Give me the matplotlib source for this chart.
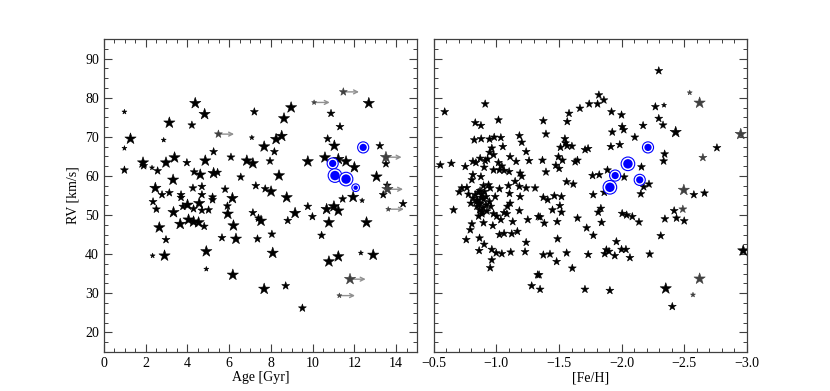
import numpy as np
import matplotlib
matplotlib.use("Agg")
import matplotlib.pyplot as plt
from matplotlib.ticker import MultipleLocator

plt.rcParams['font.family'] = ['Liberation Serif', 'DejaVu Serif']
plt.rcParams['font.size'] = 10

# ---- left panel: age vs RV (size class 1=small, 2=medium, 3=large) ----
age = [0.99, 4.38, 4.83, 3.14, 4.22, 1.28, 2.87, 0.99, 0.99, 1.88, 1.91, 2.31, 2.58,
       2.98, 3.39, 3.98, 4.86, 4.33, 4.62, 3.32, 2.47, 2.79, 3.14, 2.36, 2.52, 3.70,
       3.70, 4.27, 4.70, 4.70, 4.57, 4.01, 3.79, 4.30, 3.34, 4.70, 5.02, 4.06, 4.30,
       4.54, 3.66, 4.81, 2.66, 2.98, 2.91, 2.34, 4.91, 4.91,
       7.21, 8.97, 8.63, 7.09, 7.68, 8.25, 8.52, 8.17, 5.26, 6.09, 6.85, 7.14, 7.96,
       9.77, 5.26, 5.45, 6.56, 8.39, 7.28, 7.73, 8.01, 8.76, 9.77, 9.99, 9.16, 8.81,
       5.81, 6.16, 5.21, 5.21, 5.92, 5.94, 7.14, 7.41, 7.53, 6.21, 5.66, 6.33, 7.36,
       8.05, 8.09, 6.18, 7.68, 8.71, 9.51,
       12.69, 10.88, 11.31, 10.72, 11.04, 13.22, 13.51, 10.59, 11.23, 11.60, 12.0,
       13.06, 13.57, 13.38, 14.33, 11.94, 11.44, 12.37, 11.02, 10.67, 11.23, 10.78,
       12.58, 10.43, 11.23, 10.78, 12.31, 12.9]
age_rv = [76.4, 78.6, 75.8, 73.6, 73.0, 69.5, 69.2, 67.1, 61.5, 63.4, 62.6, 62.1, 61.3,
          63.4, 64.7, 63.4, 63.9, 61.0, 60.3, 59.0, 56.9, 55.2, 55.7, 53.4, 51.5, 55.2,
          54.5, 56.9, 57.3, 55.2, 53.0, 52.6, 52.2, 51.6, 50.7, 51.2, 51.3, 48.8, 48.3,
          48.1, 47.7, 47.1, 46.8, 43.7, 39.6, 39.6, 40.7, 36.2,
          76.4, 77.5, 74.7, 69.8, 67.5, 69.4, 70.2, 66.2, 66.2, 64.8, 63.9, 63.2, 63.8,
          63.7, 60.7, 60.9, 59.7, 60.1, 57.5, 56.7, 56.0, 54.5, 52.2, 49.6, 50.5, 48.6,
          56.6, 54.3, 54.6, 53.9, 52.3, 50.3, 50.6, 49.2, 48.5, 47.3, 44.2, 43.9, 43.9,
          45.1, 40.3, 34.7, 31.1, 31.9, 26.2,
          78.6, 76.0, 72.6, 69.5, 67.7, 67.7, 63.1, 64.7, 64.3, 63.7, 62.2,
          59.8, 57.6, 55.2, 52.9, 54.6, 54.1, 53.7, 52.2, 51.5, 51.1, 48.1,
          48.1, 44.8, 39.4, 38.1, 40.3, 39.8]
age_sz = [1, 3, 3, 3, 2, 3, 1, 1, 2, 3, 2, 1, 2,
          3, 3, 2, 3, 2, 3, 3, 3, 2, 2, 2, 2, 2,
          2, 2, 2, 2, 3, 3, 2, 2, 3, 2, 2, 3, 3,
          3, 3, 2, 3, 2, 3, 1, 3, 1,
          2, 3, 3, 1, 3, 3, 3, 2, 2, 2, 3, 3, 2,
          3, 3, 2, 2, 3, 2, 2, 3, 3, 2, 2, 3, 2,
          2, 3, 2, 2, 2, 3, 2, 2, 3, 3, 2, 3, 2,
          2, 3, 3, 3, 2, 2,
          3, 2, 2, 2, 3, 2, 2, 3, 3, 3, 3,
          3, 2, 2, 2, 3, 2, 1, 3, 3, 3, 3,
          3, 2, 3, 3, 1, 3]

# lower limits on age (grey stars with arrows)
lim_age = [5.49, 10.07, 11.47, 13.51, 13.58, 13.62, 11.79, 11.28]
lim_age_rv = [70.7, 78.8, 81.5, 64.8, 56.6, 51.5, 33.6, 29.4]
lim_age_sz = [2, 1, 2, 3, 3, 1, 3, 1]

# highlighted stars
blue_age = [12.42, 10.96, 11.07, 11.60, 12.06]
blue_age_rv = [67.3, 63.2, 60.1, 59.2, 57.0]
blue_age_sz = [2, 2, 3, 3, 1]

# ---- right panel: [Fe/H] vs RV ----
feh = [-0.911, -0.588, -1.017, -0.832, -0.877, -1.184, -1.203, -0.824, -0.879, -0.946,
       -0.983, -1.036, -1.052, -0.964, -0.946, -0.978, -1.238, -1.261, -1.110, -1.158,
       -0.553, -0.641, -0.752, -0.813, -0.837, -0.871, -0.911, -0.930, -0.903, -1.017,
       -1.044, -0.978, -1.025, -1.062, -1.102, -1.190, -1.203, -0.813, -0.877, -0.805,
       -0.898, -0.938, -0.951, -1.025, -1.097, -1.150, -1.184, -1.238, -1.309, -0.725,
       -0.704, -0.765, -0.778, -0.832, -0.885, -0.919, -0.991, -1.105, -1.190, -0.797,
       -0.840, -0.871, -0.898, -0.946, -0.956, -0.845, -0.866, -0.885, -0.859, -0.898,
       -0.978, -1.004, -1.036, -1.084, -1.110, -1.089, -1.062, -1.184, -0.659, -0.805,
       -0.792, -0.760, -0.866, -0.903, -0.863, -0.964, -0.999, -1.044, -1.115, -0.964,
       -0.951, -0.972, -1.025, -1.062, -1.123, -1.168, -1.131, -1.251, -1.238, -1.229,
       -1.282, -1.330, -1.335, -0.813, -0.855, -0.925,
       -0.862, -0.880, -0.895, -0.870, -0.905, -0.850, -0.888, -0.918,
       -1.818, -1.858, -1.808, -1.741, -1.667, -1.580, -1.566, -1.375, -1.396, -1.547,
       -1.552, -1.512, -1.565, -1.603, -1.708, -1.732, -1.919, -1.999, -2.004, -2.017,
       -1.925, -2.171, -2.105, -1.914, -1.985, -1.368, -1.496, -1.528, -1.475, -1.501,
       -1.629, -1.647, -1.396, -1.768, -1.821, -1.887, -2.020, -2.158, -2.153, -1.561,
       -1.614, -1.375, -1.410, -1.463, -1.520, -1.507, -1.448, -1.520, -1.349, -1.383,
       -1.486, -1.648, -1.773, -1.861, -1.813, -1.834, -1.840, -1.721, -1.774, -2.004,
       -2.040, -2.085, -2.138, -1.489, -1.958, -1.878, -1.899, -1.865, -1.945, -1.999,
       -2.034, -2.066, -1.375, -1.428, -1.561, -1.733, -1.481, -1.606, -1.341, -1.349,
       -1.707, -1.906,
       -2.296, -2.269, -2.338, -2.296, -2.330, -2.431, -2.760, -2.343, -2.335, -2.218,
       -2.176, -2.576, -2.661, -2.419, -2.345, -2.438, -2.499, -2.312, -2.224, -2.97,
       -2.352, -2.404]
feh_rv = [78.4, 76.4, 74.3, 73.6, 72.9, 70.3, 68.6, 69.2, 69.5, 69.4,
          69.9, 69.8, 67.5, 67.1, 66.0, 65.4, 66.2, 63.9, 64.9, 63.7,
          62.8, 63.2, 62.4, 63.7, 63.4, 64.5, 63.9, 64.3, 62.2, 63.4,
          62.5, 61.5, 61.5, 61.4, 61.1, 60.7, 59.9, 60.3, 59.8, 59.0,
          57.5, 57.7, 56.9, 56.7, 57.5, 58.6, 57.3, 56.9, 56.9, 56.9,
          55.9, 57.0, 55.3, 55.2, 55.3, 54.7, 54.7, 55.5, 54.7, 53.0,
          53.4, 53.0, 54.0, 53.4, 52.2, 52.2, 51.3, 50.3, 49.7, 48.0,
          50.3, 49.7, 48.8, 50.3, 53.0, 52.2, 50.6, 51.1, 51.3, 47.7,
          46.2, 43.7, 44.1, 42.5, 40.9, 41.2, 40.3, 40.1, 40.5, 38.5,
          36.5, 47.3, 45.0, 45.3, 45.2, 45.8, 48.3, 48.8, 43.0, 40.6,
          31.9, 34.7, 49.6, 54.3, 55.8, 51.0,
          52.8, 54.5, 51.8, 56.2, 56.0, 53.8, 50.8, 52.6,
          80.7, 79.4, 78.4, 78.4, 77.3, 76.0, 73.9, 74.1, 70.7, 69.5,
          68.4, 67.3, 67.7, 67.6, 66.7, 67.0, 76.4, 75.6, 72.6, 71.8,
          71.2, 72.9, 69.9, 67.5, 68.0, 64.0, 64.9, 64.0, 62.7, 61.9,
          63.6, 64.0, 61.0, 60.1, 60.3, 61.5, 59.7, 62.3, 55.4, 58.5,
          57.9, 54.5, 53.9, 54.9, 54.7, 52.4, 51.3, 50.7, 49.5, 47.9,
          48.3, 49.2, 55.2, 55.8, 50.7, 51.7, 48.1, 46.7, 44.8, 50.4,
          50.0, 49.6, 48.2, 43.9, 43.2, 41.1, 40.7, 40.1, 39.6, 41.2,
          41.2, 39.1, 39.8, 40.0, 40.3, 39.9, 38.1, 36.4, 34.7, 31.0,
          31.0, 30.7,
          86.9, 77.7, 78.1, 74.7, 73.0, 71.2, 67.2, 65.6, 63.8, 57.9,
          57.2, 55.2, 55.6, 51.1, 49.0, 49.2, 48.5, 44.7, 40.0, 40.9,
          31.2, 26.6]
feh_sz = [2] * 196 + [2, 2, 1, 2, 2, 3, 2, 2, 2, 2, 2, 2, 2, 2, 2, 2, 2, 2, 2, 3, 3, 2]

lim_feh = [-2.543, -2.622, -2.648, -2.95, -2.496, -2.488, -2.622, -2.569]
lim_feh_rv = [81.3, 78.7, 64.7, 70.7, 56.4, 51.5, 33.7, 29.6]
lim_feh_sz = [1, 3, 2, 3, 3, 2, 3, 1]

blue_feh = [-2.21, -2.05, -1.948, -2.144, -1.906]
blue_feh_rv = [67.3, 63.1, 60.1, 59.0, 57.1]
blue_feh_sz = [2, 3, 2, 2, 3]

STAR_S = {1: 14, 2: 36, 3: 72}
RING_D = {1: 5.5, 2: 8.0, 3: 9.8}   # outer ring diameter (pt)
DOT_D = {1: 3.2, 2: 5.2, 3: 6.8}


def stars(ax, x, y, sz, color):
    s = [STAR_S[k] for k in sz]
    ax.scatter(x, y, s=s, marker='*', c=color, edgecolors=color, linewidths=0.4, zorder=3)


def blue_dots(ax, x, y, sz):
    ax.scatter(x, y, s=[RING_D[k] ** 2 for k in sz], marker='o', facecolors='white',
               edgecolors='blue', linewidths=0.8, zorder=4)
    ax.scatter(x, y, s=[DOT_D[k] ** 2 for k in sz], marker='o', facecolors='blue',
               edgecolors='none', zorder=5)


def style(ax):
    for sp in ax.spines.values():
        sp.set_color('#404040')
        sp.set_linewidth(0.9)
    ax.tick_params(which='both', direction='in', top=True, right=True, color='#404040')
    ax.tick_params(which='major', length=5.5, width=0.8)
    ax.tick_params(which='minor', length=3, width=0.7)
    ax.yaxis.set_major_locator(MultipleLocator(10))
    ax.yaxis.set_minor_locator(MultipleLocator(2.5))
    ax.set_ylim(15, 95)


fig, (ax1, ax2) = plt.subplots(1, 2, figsize=(8.3, 3.91), dpi=100, sharey=True)
fig.subplots_adjust(left=0.125, right=0.9, bottom=0.1, top=0.9, wspace=0.053)

# left
stars(ax1, age, age_rv, age_sz, 'black')
for x, y in zip(lim_age, lim_age_rv):
    ax1.annotate('', xy=(x + 0.75, y), xytext=(x, y),
                 arrowprops=dict(arrowstyle='->', color='#909090', lw=1.0,
                                 shrinkA=0, shrinkB=0, mutation_scale=7), zorder=2)
stars(ax1, lim_age, lim_age_rv, lim_age_sz, '#404040')
blue_dots(ax1, blue_age, blue_age_rv, blue_age_sz)
style(ax1)
ax1.set_xlim(0, 15)
ax1.xaxis.set_major_locator(MultipleLocator(2))
ax1.xaxis.set_minor_locator(MultipleLocator(0.5))
ax1.set_xlabel('Age [Gyr]', labelpad=1)
ax1.set_ylabel('RV [km/s]')

# right
stars(ax2, feh, feh_rv, feh_sz, 'black')
stars(ax2, lim_feh, lim_feh_rv, lim_feh_sz, '#404040')
blue_dots(ax2, blue_feh, blue_feh_rv, blue_feh_sz)
style(ax2)
ax2.set_xlim(-0.5, -3.0)
ax2.xaxis.set_major_locator(MultipleLocator(0.5))
ax2.xaxis.set_minor_locator(MultipleLocator(0.1))
ax2.tick_params(labelleft=False)
ax2.set_xlabel('[Fe/H]', labelpad=1)

fig.savefig('out.png', dpi=100)
